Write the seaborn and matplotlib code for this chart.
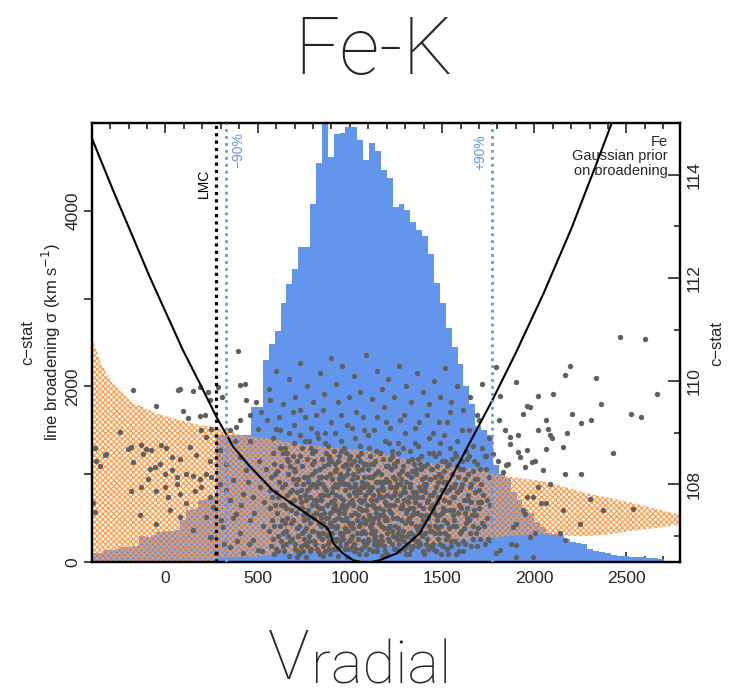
import numpy as np
import pandas as pd
import matplotlib
matplotlib.use("Agg")
import matplotlib.pyplot as plt
import seaborn as sns
from matplotlib.ticker import MultipleLocator, FixedLocator

sns.set_style("ticks")
plt.rcParams['font.family'] = ['Liberation Sans', 'DejaVu Sans']
plt.rcParams['hatch.linewidth'] = 0.85

BLUE = '#6495ED'
ORANGE = '#FF9A45'
GREY = '#606060'

# ---------------- data ----------------
# histogram of v_radial (bins of 32 km/s starting at -400)
hist_start = -400
hist_width = 32
hist_counts = [95, 100, 133, 133, 140, 170, 171, 175, 290, 285, 300, 342, 345, 350, 360, 475,
               590, 600, 703, 720, 745, 1440, 1450, 1450, 1445, 1445, 1450, 1770, 1770, 2298, 2480,
               2633, 2952, 3165, 3343, 3590, 3590, 4084, 4547, 5400, 4615, 4874, 4889, 4960, 4960,
               4814, 4586, 4775, 4684, 4472, 4380, 4046, 4084, 4008, 3871, 3780, 3712, 3514, 3180,
               2952, 2671,
               2450, 2250, 2000, 1800, 1550, 1500, 1450, 1100, 1000, 950, 800, 700, 600, 550, 450,
               400, 330, 320, 300, 260, 220, 210, 200, 150, 120, 110, 100, 80, 70, 60, 55, 55, 50,
               45, 40, 30, 0, 0, 0]

# line-broadening region (Gaussian prior) vs velocity
band_v = [-400, -374, -356, -320, -284, -248, -212, -176, -122, -50, 40, 113, 186, 258, 271,
          285, 330, 403, 500, 600, 765, 900, 1000, 1126, 1200, 1379, 1500, 1600, 1700, 1800,
          1900, 2030, 2138, 2265, 2400, 2536, 2663, 2771, 2790]
band_upper = [2564, 2413, 2298, 2147, 2033, 1957, 1880, 1805, 1766, 1691, 1634, 1596, 1558, 1539,
              1530, 1525, 1510, 1444, 1420, 1390, 1330, 1300, 1280, 1254, 1220, 1140, 1110, 1080,
              1040, 995, 960, 925, 870, 790, 730, 670, 600, 545, 535]
band_lower = [0, 0, 0, 0, 0, 0, 0, 0, 0, 0, 0, 0, 0, 0, 0,
              50, 50, 55, 60, 90, 100, 120, 150, 170, 180, 195, 210, 230, 250, 280,
              300, 315, 300, 290, 310, 355, 385, 420, 430]

# c-stat profile curve
curve_v = [-400, -284, -176, -85, 5, 95, 186, 276, 367, 457, 583, 765, 873, 891, 909, 963,
           1017, 1090, 1162, 1253, 1379, 1542, 1768, 1900, 2050, 2200, 2330, 2430]
curve_c = [114.72, 113.70, 112.79, 112.02, 111.31, 110.60, 109.96, 109.31, 108.73, 108.35,
           107.88, 107.43, 107.17, 107.08, 106.86, 106.66, 106.53, 106.47, 106.53, 106.66,
           107.05, 108.08, 109.60, 110.55, 111.70, 112.95, 114.15, 115.10]

# c-stat of individual samples (v, c-stat)
cstat_left = [
    (-176, 109.82), (68, 109.83), (150, 109.81), (231, 109.79), (394, 110.59), (-49, 109.51),
    (95, 109.43), (123, 109.29), (186, 109.32), (-248, 109.01), (-203, 108.69), (-185, 108.72),
    (-130, 108.76), (-103, 108.69), (-76, 108.66), (-22, 108.76), (5, 108.71), (33, 108.53),
    (78, 108.50), (132, 108.72), (168, 108.56), (195, 109.05), (222, 108.92), (249, 109.08),
    (-329, 108.56), (-356, 108.35), (-176, 108.43), (-121, 108.59), (-85, 108.30), (-58, 108.33),
    (-31, 108.40), (-4, 108.21), (33, 108.27), (60, 108.14), (114, 108.21), (150, 108.17),
    (186, 108.11), (222, 108.21), (249, 108.14), (-185, 107.88), (-130, 107.95), (-94, 108.11),
    (-49, 107.88), (-4, 107.95), (14, 107.75), (60, 108.01), (78, 107.82), (114, 107.63),
    (159, 107.88), (195, 107.95), (240, 107.75), (-393, 107.63), (-139, 107.40), (-49, 107.24),
    (23, 107.50), (78, 107.37), (150, 107.11), (222, 107.37), (249, 106.98), (-383, 108.70),
    (-374, 108.46), (-320, 108.59), (-383, 107.46), (78, 109.85), (186, 109.88), (240, 109.63),
]
cstat_middle = [
    (403, 109.92), (430, 109.95), (285, 109.88), (304, 109.69), (439, 109.64), (493, 109.59),
    (566, 109.64), (213, 109.34), (403, 109.24), (385, 109.11), (349, 109.05), (457, 109.34),
    (520, 109.40), (548, 109.24), (602, 109.08), (502, 109.08), (457, 108.85), (376, 108.85),
    (294, 108.66), (240, 108.46), (331, 108.40), (403, 108.53), (439, 108.27), (367, 108.08),
    (294, 108.01), (421, 107.82), (349, 107.69), (475, 107.75), (258, 107.56), (385, 107.43),
    (457, 107.30), (312, 107.17), (403, 107.05), (240, 106.98), (475, 106.92), (349, 106.79),
    (421, 106.66), (276, 106.66), (502, 106.72), (330, 107.90), (365, 107.35), (410, 107.60),
    (445, 108.05), (480, 107.45), (515, 107.95), (530, 107.20), (545, 108.30), (300, 107.30),
    (390, 106.90), (455, 106.85), (525, 106.70), (535, 107.65), (505, 108.45), (320, 106.85),
]
cstat_right = [
    (2464, 110.85), (2603, 110.81), (2663, 109.76), (2527, 109.36), (2581, 109.30), (2337, 110.06),
    (2364, 109.56), (2427, 108.61), (2193, 110.29), (2165, 110.12), (2102, 109.76), (2021, 109.71),
    (1903, 109.98), (1813, 109.72), (1795, 110.27), (1939, 109.37), (1976, 109.50), (2202, 109.37),
    (2256, 109.18), (2310, 109.25), (2066, 109.24), (2075, 109.08), (2084, 108.95), (2175, 108.99),
    (2066, 108.69), (1958, 108.66), (1912, 108.95), (1867, 108.79), (1840, 109.05), (1804, 108.46),
    (1849, 108.37), (1921, 108.53), (1985, 108.43), (2048, 108.27), (2165, 108.21), (2256, 108.21),
    (2084, 108.01), (2301, 107.72), (2156, 107.50), (2247, 107.24), (2373, 107.50), (2066, 107.63),
    (1993, 107.75), (1939, 107.50), (1885, 107.17), (1976, 106.98), (1813, 106.72), (1759, 106.92),
    (1903, 106.82), (2536, 107.53), (2138, 107.05), (2165, 106.92), (1993, 106.59), (1903, 106.59),
    (1795, 106.66), (1963, 109.51), (2156, 108.72), (2003, 108.46), (1949, 108.33), (1912, 108.63),
    (1858, 108.40), (1831, 108.24), (1867, 108.92), (1777, 108.59), (1809, 109.24), (2021, 107.95),
    (1958, 107.75), (1949, 107.43), (2003, 107.05), (1903, 107.24), (1876, 106.85), (2039, 107.63),
    (2095, 108.90), (2021, 109.05),
]
cstat_core = [
    (565, 107.9), (578, 107.3), (590, 108.4), (571, 106.8), (596, 107.6), (583, 108.9), (562, 107.1),
    (588, 106.65), (574, 108.15),
    (604, 107.45), (617, 108.05), (629, 106.9), (611, 107.75), (636, 108.6), (622, 107.2), (608, 106.7),
    (633, 107.95), (615, 109.3), (626, 108.35), (639, 107.05),
    (644, 107.6), (652, 106.85), (667, 108.2), (659, 107.35), (676, 107.85), (648, 108.7), (671, 106.62),
    (655, 107.1), (663, 108.45), (679, 107.5), (646, 108.0), (668, 109.0),
    (683, 107.25), (691, 108.1), (705, 106.75), (698, 107.7), (714, 108.45), (687, 106.95), (709, 107.45),
    (695, 108.8), (718, 107.0), (702, 108.25), (686, 107.9), (712, 106.6), (699, 109.15),
    (724, 107.55), (733, 106.8), (745, 108.0), (752, 107.3), (728, 108.55), (739, 107.05), (757, 107.8),
    (741, 108.35), (722, 106.65), (749, 106.95), (736, 107.65), (755, 108.85), (731, 109.45), (746, 107.4),
    (763, 107.15), (771, 108.15), (784, 106.7), (792, 107.6), (768, 107.9), (779, 106.9), (797, 108.4),
    (775, 107.35), (788, 108.7), (761, 106.6), (795, 107.1), (782, 107.75), (766, 108.5), (790, 109.1),
    (773, 107.5),
    (804, 107.7), (812, 106.85), (826, 108.05), (833, 107.25), (808, 108.45), (819, 107.45), (838, 106.65),
    (815, 107.95), (829, 108.9), (802, 107.1), (836, 107.8), (822, 106.75), (811, 108.25), (831, 107.55),
    (817, 109.35), (840, 108.3),
    (843, 107.35), (851, 108.0), (866, 106.7), (874, 107.6), (847, 106.95), (859, 108.35), (877, 107.15),
    (855, 107.8), (869, 108.6), (845, 108.15), (862, 107.45), (879, 106.85), (853, 107.05), (871, 107.9),
    (864, 109.0), (849, 107.55),
    (884, 107.8), (893, 106.65), (905, 108.1), (913, 107.3), (887, 107.05), (899, 108.45), (917, 106.9),
    (896, 107.65), (909, 107.95), (882, 108.75), (903, 107.2), (919, 108.25), (890, 107.45), (911, 106.75),
    (898, 109.2), (915, 107.7),
    (923, 107.15), (931, 107.95), (944, 106.8), (952, 107.55), (926, 108.3), (938, 107.35), (957, 108.05),
    (935, 106.62), (948, 107.75), (921, 107.6), (942, 108.55), (959, 107.0), (929, 106.95), (954, 108.85),
    (940, 107.45), (946, 108.2), (933, 109.6),
    (963, 107.7), (972, 106.75), (985, 108.0), (993, 107.25), (967, 107.45), (979, 108.4), (997, 106.9),
    (975, 107.9), (989, 107.1), (961, 108.15), (983, 106.6), (999, 107.65), (969, 108.7), (991, 108.3),
    (977, 107.35), (987, 109.15), (965, 106.95),
    (1004, 107.4), (1012, 108.1), (1025, 106.7), (1033, 107.8), (1008, 106.95), (1019, 107.6),
    (1038, 108.35), (1015, 107.15), (1029, 107.95), (1002, 108.55), (1022, 106.85), (1036, 107.3),
    (1010, 107.7), (1027, 108.9), (1017, 108.2), (1040, 107.05), (1031, 109.4),
    (1043, 107.85), (1051, 106.65), (1066, 107.5), (1074, 108.15), (1047, 107.2), (1059, 107.95),
    (1077, 106.8), (1055, 108.45), (1069, 107.35), (1045, 106.95), (1062, 107.65), (1079, 107.95),
    (1053, 108.75), (1071, 107.1), (1064, 108.3), (1049, 107.55), (1075, 109.05),
    (1084, 107.25), (1092, 108.0), (1105, 106.75), (1113, 107.7), (1087, 107.5), (1099, 108.3),
    (1117, 107.05), (1096, 106.9), (1109, 108.55), (1082, 107.8), (1103, 107.4), (1119, 108.15),
    (1090, 106.65), (1111, 107.9), (1098, 108.95), (1115, 107.15), (1086, 108.4),
    (1123, 107.6), (1131, 106.85), (1144, 108.05), (1152, 107.35), (1126, 108.4), (1138, 107.1),
    (1157, 107.8), (1135, 107.55), (1148, 106.7), (1121, 107.95), (1142, 108.65), (1159, 107.25),
    (1129, 106.95), (1154, 108.25), (1140, 107.7), (1146, 109.3),
    (1163, 107.4), (1171, 108.2), (1184, 106.8), (1192, 107.65), (1167, 107.0), (1179, 107.9),
    (1197, 108.35), (1175, 106.62), (1188, 107.3), (1161, 108.6), (1182, 107.75), (1199, 107.05),
    (1169, 108.05), (1191, 108.85), (1177, 107.5), (1186, 109.5),
    (1204, 107.8), (1212, 106.9), (1225, 107.45), (1233, 108.15), (1208, 107.15), (1219, 108.5),
    (1238, 106.75), (1215, 107.6), (1229, 107.95), (1202, 106.65), (1222, 108.3), (1236, 107.35),
    (1210, 108.8), (1227, 107.1), (1217, 109.1),
    (1243, 107.2), (1251, 107.95), (1266, 106.85), (1274, 107.55), (1247, 108.35), (1259, 107.05),
    (1277, 108.1), (1255, 107.7), (1269, 106.7), (1245, 107.85), (1262, 108.6), (1279, 107.3),
    (1253, 106.95), (1271, 109.25), (1257, 108.0),
    (1284, 107.6), (1292, 106.75), (1305, 108.05), (1313, 107.3), (1287, 107.1), (1299, 107.85),
    (1317, 108.45), (1296, 106.9), (1309, 107.5), (1282, 108.25), (1303, 106.65), (1319, 107.75),
    (1290, 108.7), (1311, 107.0), (1298, 109.0),
    (1323, 107.35), (1331, 108.15), (1344, 106.8), (1352, 107.65), (1326, 107.95), (1338, 106.95),
    (1357, 107.2), (1335, 108.5), (1348, 107.45), (1321, 106.65), (1342, 107.85), (1359, 108.3),
    (1329, 107.05), (1354, 108.8), (1340, 107.55),
    (1363, 107.75), (1371, 106.9), (1384, 107.4), (1392, 108.1), (1367, 107.1), (1379, 108.4),
    (1397, 106.7), (1375, 107.6), (1388, 107.9), (1361, 108.2), (1382, 106.85), (1399, 107.3),
    (1369, 108.75), (1390, 107.0), (1377, 109.2),
    (1404, 107.25), (1412, 108.0), (1425, 106.75), (1433, 107.55), (1408, 107.85), (1419, 106.95),
    (1438, 108.3), (1415, 107.4), (1429, 108.6), (1402, 106.65), (1422, 107.7), (1436, 107.1),
    (1410, 108.15), (1427, 108.9),
    (1443, 107.6), (1451, 106.85), (1466, 107.95), (1474, 107.3), (1447, 108.3), (1459, 107.05),
    (1477, 108.05), (1455, 107.45), (1469, 106.7), (1445, 107.8), (1462, 108.55), (1479, 107.15),
    (1453, 109.0), (1471, 107.65),
    (1484, 107.4), (1492, 108.15), (1505, 106.8), (1513, 107.7), (1487, 107.05), (1499, 107.9),
    (1517, 108.45), (1496, 106.65), (1509, 107.3), (1482, 108.6), (1503, 107.55), (1519, 106.95),
    (1490, 108.8),
    (1523, 107.85), (1531, 107.0), (1544, 107.5), (1552, 108.2), (1526, 106.75), (1538, 108.4),
    (1557, 107.2), (1535, 107.65), (1548, 106.9), (1521, 108.05), (1542, 108.7), (1559, 107.4),
    (1529, 109.2),
    (1563, 107.3), (1571, 108.0), (1584, 106.85), (1592, 107.6), (1567, 107.75), (1579, 108.35),
    (1597, 107.05), (1575, 106.65), (1588, 108.15), (1561, 107.5), (1582, 108.85), (1599, 107.9),
    (1604, 107.55), (1612, 106.9), (1625, 108.1), (1633, 107.35), (1608, 108.45), (1619, 107.15),
    (1638, 107.8), (1615, 106.7), (1629, 108.65), (1602, 107.95), (1622, 107.45),
    (1643, 107.7), (1651, 107.05), (1666, 108.25), (1674, 107.5), (1647, 108.55), (1659, 106.8),
    (1677, 107.85), (1655, 108.0), (1669, 107.2), (1645, 109.05),
    (1684, 107.4), (1692, 108.1), (1705, 106.95), (1713, 107.65), (1687, 108.4), (1699, 107.9),
    (1717, 108.7), (1696, 107.15),
    (1724, 107.8), (1737, 108.3), (1745, 107.35), (1752, 108.9), (1731, 106.85), (1758, 107.6),
]
cstat_core2 = [
    (568, 107.55), (581, 106.95), (593, 108.2), (576, 107.75), (599, 106.75), (586, 107.2),
    (606, 108.25), (613, 107.0), (627, 107.6), (638, 106.8), (619, 108.7), (631, 107.3), (602, 107.85),
    (642, 106.7), (657, 107.8), (664, 107.0), (673, 108.35), (649, 107.25), (678, 106.9), (661, 108.6),
    (653, 107.55),
    (681, 107.65), (693, 107.3), (707, 108.0), (716, 107.85), (689, 108.55), (701, 106.85), (711, 107.15),
    (696, 108.3), (719, 106.7),
    (726, 107.2), (735, 107.9), (744, 106.7), (754, 108.15), (729, 107.75), (742, 107.55), (759, 106.85),
    (738, 108.7), (751, 107.1), (721, 108.1),
    (764, 107.45), (774, 108.05), (781, 107.0), (794, 108.2), (769, 106.8), (786, 107.95), (799, 107.4),
    (777, 108.85), (762, 107.7), (791, 106.75), (785, 107.25),
    (803, 106.9), (814, 107.6), (827, 107.05), (835, 108.15), (806, 107.35), (821, 108.0), (839, 107.4),
    (813, 108.65), (828, 106.7), (801, 108.0), (834, 107.0), (824, 107.7),
    (842, 107.7), (856, 107.25), (868, 108.15), (875, 107.0), (848, 108.5), (857, 106.62), (872, 107.35),
    (861, 107.95), (880, 108.4), (846, 107.2), (867, 108.8), (852, 106.8),
    (881, 107.35), (894, 108.2), (902, 107.05), (916, 107.5), (886, 108.5), (901, 107.85), (912, 108.65),
    (889, 106.75), (907, 106.95), (918, 108.0), (892, 107.25), (906, 107.55), (885, 106.9),
    (924, 107.8), (932, 107.2), (943, 108.1), (955, 107.3), (927, 106.75), (939, 108.0), (958, 107.6),
    (936, 108.45), (949, 106.9), (922, 108.4), (945, 107.05), (953, 108.65), (930, 107.5),
    (962, 107.05), (973, 107.55), (982, 108.2), (994, 107.8), (968, 108.0), (978, 106.85), (996, 108.5),
    (971, 107.15), (986, 107.6), (964, 108.35), (981, 107.3), (998, 106.75), (990, 108.0),
    (1003, 107.95), (1014, 107.25), (1026, 108.0), (1035, 106.75), (1007, 108.4), (1018, 106.8),
    (1030, 107.45), (1039, 107.9), (1011, 107.0), (1024, 108.45), (1037, 108.15), (1005, 107.2),
    (1020, 107.85),
    (1042, 107.4), (1054, 107.85), (1063, 107.05), (1076, 107.7), (1046, 108.25), (1058, 106.75),
    (1068, 108.05), (1080, 107.25), (1050, 107.7), (1061, 108.6), (1072, 106.9), (1057, 107.25),
    (1078, 108.4),
    (1081, 107.05), (1094, 107.6), (1104, 108.15), (1116, 107.35), (1088, 108.0), (1101, 106.95),
    (1110, 107.2), (1120, 107.6), (1093, 107.3), (1106, 107.95), (1085, 106.85), (1114, 108.4),
    (1097, 107.85),
    (1122, 107.25), (1134, 108.2), (1143, 107.45), (1155, 106.9), (1127, 107.8), (1139, 108.45),
    (1150, 107.9), (1160, 107.55), (1132, 107.35), (1145, 106.8), (1125, 106.7), (1158, 108.05),
    (1137, 107.0),
    (1164, 107.75), (1173, 106.9), (1185, 108.05), (1194, 107.35), (1168, 107.2), (1181, 108.5),
    (1196, 107.6), (1172, 107.95), (1189, 106.7), (1162, 106.85), (1178, 107.4), (1198, 108.1),
    (1183, 107.15),
    (1203, 107.3), (1214, 108.05), (1224, 107.75), (1235, 107.0), (1207, 108.35), (1218, 107.2),
    (1231, 106.85), (1240, 107.8), (1211, 107.5), (1226, 108.65), (1206, 106.95), (1237, 108.4),
    (1220, 107.95),
    (1242, 107.6), (1254, 107.35), (1265, 108.2), (1276, 106.95), (1248, 107.0), (1258, 108.45),
    (1270, 107.8), (1280, 107.55), (1250, 106.75), (1263, 107.15), (1273, 108.0), (1246, 108.1),
    (1283, 107.0), (1294, 107.95), (1306, 107.45), (1316, 106.85), (1288, 108.35), (1300, 107.25),
    (1312, 108.2), (1320, 107.05), (1291, 107.7), (1307, 106.8), (1286, 107.85), (1315, 107.65),
    (1324, 108.0), (1333, 107.25), (1345, 107.75), (1356, 106.9), (1328, 107.55), (1339, 108.25),
    (1350, 107.0), (1360, 107.85), (1332, 106.75), (1347, 108.4), (1337, 107.4),
    (1364, 107.15), (1373, 107.95), (1385, 108.3), (1395, 107.55), (1368, 106.8), (1380, 107.2),
    (1391, 107.75), (1400, 108.0), (1372, 108.5), (1387, 107.05), (1366, 107.45),
    (1405, 107.95), (1414, 106.85), (1426, 107.35), (1437, 107.8), (1409, 107.05), (1420, 108.4),
    (1431, 107.2), (1440, 106.8), (1416, 107.65), (1403, 108.35), (1434, 108.1),
    (1444, 107.1), (1456, 107.85), (1467, 107.4), (1478, 106.95), (1449, 107.55), (1460, 108.15),
    (1472, 108.35), (1452, 106.75), (1464, 107.2), (1476, 107.75),
    (1483, 107.75), (1494, 107.2), (1506, 108.05), (1518, 107.5), (1488, 106.85), (1501, 107.45),
    (1512, 108.25), (1498, 108.45), (1486, 108.2), (1515, 107.05),
    (1524, 107.25), (1536, 107.9), (1546, 106.8), (1558, 107.75), (1528, 108.35), (1540, 107.15),
    (1551, 107.95), (1533, 106.65), (1555, 108.5),
    (1564, 107.95), (1576, 107.2), (1587, 107.45), (1598, 108.3), (1568, 106.9), (1580, 107.85),
    (1594, 106.7), (1573, 108.55),
    (1605, 107.1), (1617, 107.7), (1628, 107.25), (1639, 108.2), (1610, 108.0), (1623, 106.85),
    (1635, 107.55), (1613, 108.3),
    (1646, 107.3), (1657, 107.65), (1668, 106.95), (1679, 108.1), (1652, 107.95), (1663, 107.4),
    (1672, 108.45),
    (1683, 107.05), (1694, 107.65), (1707, 108.3), (1716, 107.25), (1690, 106.8), (1702, 107.55),
    (1711, 108.0),
    (1727, 107.2), (1741, 107.7), (1754, 108.15), (1733, 108.55), (1748, 106.95),
]
cstat_upper = [
    (560, 109.85), (598, 110.2), (640, 109.55), (672, 110.05), (705, 109.7), (732, 110.35), (768, 109.9),
    (801, 109.6), (838, 110.15), (862, 109.75), (897, 110.45), (925, 109.95), (958, 110.3), (993, 109.7),
    (1021, 110.1), (1057, 109.8), (1088, 110.5), (1118, 109.65), (1149, 110.2), (1176, 109.85),
    (1208, 110.05), (1239, 109.7), (1266, 110.3), (1302, 109.9), (1331, 109.6), (1365, 110.15),
    (1394, 109.8), (1428, 109.55), (1457, 110.0), (1489, 109.7), (1515, 110.25), (1548, 109.6),
    (1583, 109.9), (1611, 109.45), (1650, 109.7), (1690, 109.35), (1715, 109.95),
    (585, 108.6), (623, 109.05), (657, 108.5), (690, 109.4), (727, 108.95), (758, 109.3), (793, 108.6),
    (824, 109.0), (857, 109.45), (888, 108.55), (918, 109.0), (951, 109.35), (981, 108.6), (1014, 109.1),
    (1046, 108.55), (1071, 109.3), (1102, 108.7), (1133, 109.05), (1166, 108.6), (1195, 109.2),
    (1228, 108.55), (1259, 108.8), (1293, 109.35), (1326, 108.65), (1355, 109.1), (1386, 108.55),
    (1418, 109.35), (1449, 108.6), (1481, 109.2), (1510, 108.95), (1541, 109.4), (1572, 108.6),
    (1606, 109.05), (1637, 108.5), (1665, 108.75), (1702, 109.25), (1738, 108.55),
]

v_lmc = 275
v_lo90 = 330
v_hi90 = 1773

# ---------------- figure ----------------
fig = plt.figure(figsize=(7.34, 6.97), dpi=100)
ax1 = fig.add_axes([0.1249, 0.1941, 0.8015, 0.6290])

edges = [hist_start + hist_width * i for i in range(len(hist_counts) + 1)]
hist_df = pd.DataFrame({'v': [e + hist_width / 2 for e in edges[:-1]], 'n': hist_counts})
sns.histplot(data=hist_df, x='v', weights='n', bins=edges, element='step', fill=True,
             color=BLUE, alpha=1, linewidth=0, ax=ax1, zorder=1)

ax1.fill_between(band_v, band_lower, band_upper, facecolor='none', edgecolor=ORANGE,
                 hatch='xxxxxx', linewidth=0, zorder=2)

ax1.set_xlim(-400, 2790)
ax1.set_ylim(0, 5000)
ax1.set_xlabel('')
ax1.set_ylabel('')

ax2 = ax1.twinx()
pts = cstat_left + cstat_middle + cstat_right + cstat_core + cstat_core2 + cstat_upper
pts_df = pd.DataFrame(pts, columns=['v', 'c'])
sns.scatterplot(data=pts_df, x='v', y='c', ax=ax2, s=15, color=GREY, linewidth=0, zorder=2)
curve_df = pd.DataFrame({'v': curve_v, 'c': curve_c})
sns.lineplot(data=curve_df, x='v', y='c', ax=ax2, sort=False, estimator=None, color='black',
             linewidth=1.5, zorder=3)
ax2.set_ylim(106.5, 115)
ax2.set_xlim(-400, 2790)

ax2.axvline(v_lmc, color='black', linestyle=(0, (1, 1.3)), linewidth=2.3, zorder=4)
ax2.axvline(v_lo90, color=BLUE, linestyle=(0, (1, 1.5)), linewidth=2.0, zorder=4)
ax2.axvline(v_hi90, color=BLUE, linestyle=(0, (1, 1.5)), linewidth=2.0, zorder=4)

ax2.text(209, 4484, 'LMC', transform=ax1.transData, rotation=90, ha='center', va='top',
         fontsize=10, color='black')
ax2.text(398, 4900, '\u221290%', transform=ax1.transData, rotation=90, ha='center', va='top',
         fontsize=10, color=BLUE)
ax2.text(1705, 4870, '+90%', transform=ax1.transData, rotation=90, ha='center', va='top',
         fontsize=10, color=BLUE)
ax2.text(0.9796, 0.974, 'Fe\nGaussian prior\non broadening', transform=ax2.transAxes,
         ha='right', va='top', multialignment='right', fontsize=10.5, linespacing=1.05)

# ticks
ax1.xaxis.set_major_locator(MultipleLocator(500))
ax1.xaxis.set_minor_locator(MultipleLocator(100))
ax1.tick_params(axis='x', which='both', direction='in', top=True, bottom=True,
                labelsize=12.5, pad=7, width=1.2)
ax1.tick_params(axis='x', which='major', length=7)
ax1.tick_params(axis='x', which='minor', length=4)

ax1.yaxis.set_major_locator(FixedLocator([0, 1000, 2000, 3000, 4000]))
ax1.set_yticklabels(['0', '', '2000', '', '4000'])
ax1.tick_params(axis='y', which='major', direction='out', length=6, width=1.2,
                labelsize=12.5, pad=2)
for lab in ax1.get_yticklabels():
    lab.set_rotation(90)
    lab.set_va('center')

ax2.yaxis.set_major_locator(FixedLocator([108, 110, 112, 114]))
ax2.yaxis.set_minor_locator(FixedLocator([107, 109, 111, 113]))
ax2.tick_params(axis='y', which='major', direction='in', length=9, width=1.2,
                labelsize=12.5, pad=5)
ax2.tick_params(axis='y', which='minor', direction='in', length=4, width=1.2)
for lab in ax2.get_yticklabels():
    lab.set_rotation(90)
    lab.set_va('center')
ax2.set_ylabel('')
ax2.set_xlabel('')

for ax in (ax1, ax2):
    for sp in ax.spines.values():
        sp.set_linewidth(1.6)
        sp.set_color('black')
        sp.set_visible(True)

# axis titles
fig.text(42 / 734, 1 - 342 / 697, 'c\u2212stat\nline broadening \u03c3 (km s$^{-1}$)',
         rotation=90, ha='center', va='center', fontsize=12, linespacing=1.25)
fig.text(717 / 734, 1 - 343 / 697, 'c\u2212stat', rotation=90, ha='center', va='center',
         fontsize=12)

fig.text(374 / 734, 1 - 74 / 697, 'Fe-K', ha='center', va='baseline', fontsize=57,
         family=['Roboto', 'DejaVu Sans'], fontweight='light')
fig.text(268 / 734, 1 - 679 / 697, 'V', ha='left', va='baseline', fontsize=50,
         family=['Roboto', 'DejaVu Sans'], fontweight='light')
fig.text(311 / 734, 1 - 684 / 697, 'radial', ha='left', va='baseline', fontsize=43,
         family=['Roboto', 'DejaVu Sans'], fontweight='light')

fig.savefig('out.png', dpi=100)
